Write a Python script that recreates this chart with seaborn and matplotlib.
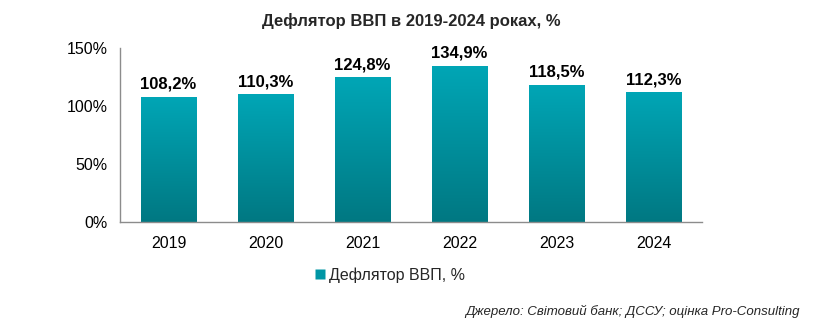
import numpy as np
import pandas as pd
import matplotlib
matplotlib.use("Agg")
import matplotlib.pyplot as plt
import seaborn as sns
from matplotlib.colors import LinearSegmentedColormap
from matplotlib.lines import Line2D

years = ["2019", "2020", "2021", "2022", "2023", "2024"]
values = [108.2, 110.3, 124.8, 134.9, 118.5, 112.3]
labels = ["108,2%", "110,3%", "124,8%", "134,9%", "118,5%", "112,3%"]
series_name = "Дефлятор ВВП, %"
title = "Дефлятор ВВП в 2019-2024 роках, %"
source = "Джерело: Світовий банк; ДССУ; оцінка Pro-Consulting"
yticks = [0, 50, 100, 150]
ytick_labels = ["0%", "50%", "100%", "150%"]

sns.set_theme(style="white")
plt.rcParams["font.family"] = ["Liberation Sans", "DejaVu Sans"]

df = pd.DataFrame({"year": years, "value": values})

fig = plt.figure(figsize=(8.23, 3.27), dpi=100)
ax = fig.add_axes([0.1458, 0.321, 0.7072, 0.532])

sns.barplot(data=df, x="year", y="value", color="#0096A5", width=0.57, ax=ax, saturation=1)

ax.set_xlim(-0.5, 5.5)
ax.set_ylim(0, 150)

cmap = LinearSegmentedColormap.from_list("teal", ["#007882", "#00A6B6"])
grad = np.linspace(0, 1, 256).reshape(-1, 1)
for p in ax.patches:
    x0, y0 = p.get_x(), p.get_y()
    w, h = p.get_width(), p.get_height()
    p.set_facecolor("none")
    p.set_edgecolor("none")
    im = ax.imshow(grad, cmap=cmap, aspect="auto", origin="lower",
                   extent=[x0, x0 + w, y0, y0 + h], zorder=2)
    im.set_clip_path(p)

ax.set_xlim(-0.5, 5.5)
ax.set_ylim(0, 150)

for i, (v, lab) in enumerate(zip(values, labels)):
    ax.text(i, v + 4, lab, ha="center", va="bottom", fontsize=12,
            fontweight="bold", color="black")

ax.set_yticks(yticks)
ax.set_yticklabels(ytick_labels)
ax.set_xlabel("")
ax.set_ylabel("")
ax.tick_params(axis="both", labelsize=11.5, colors="black", length=0)
ax.tick_params(axis="y", pad=9)
ax.tick_params(axis="x", pad=10)

for s in ["top", "right"]:
    ax.spines[s].set_visible(False)
for s in ["left", "bottom"]:
    ax.spines[s].set_color("#8c8c8c")
    ax.spines[s].set_linewidth(1)

fig.text(0.5, 0.935, title, ha="center", va="center", fontsize=12, fontweight="bold")

handle = Line2D([], [], marker="s", linestyle="none", markersize=7,
                markerfacecolor="#0096A5", markeredgecolor="none")
fig.legend([handle], [series_name], loc="center", bbox_to_anchor=(0.474, 0.158),
           frameon=False, fontsize=11.5, handlelength=0.6, handletextpad=0.3)

fig.text(0.972, 0.048, source, ha="right", va="center", fontsize=9.5, style="italic")

fig.savefig("out.png", dpi=100)
